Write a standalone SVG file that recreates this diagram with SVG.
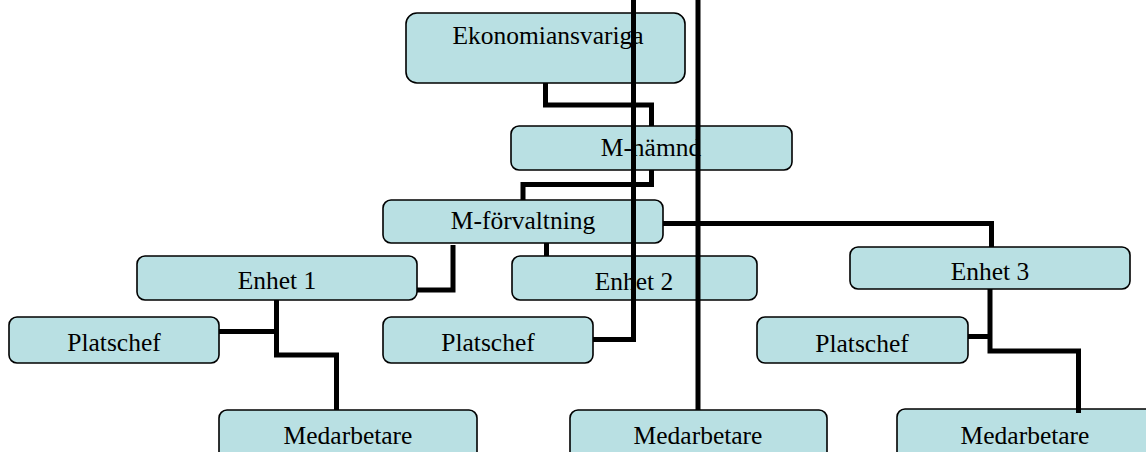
<svg xmlns="http://www.w3.org/2000/svg" width="1146" height="452" viewBox="0 0 1146 452">
<style>
.box{fill:#B9E0E3;stroke:#000;stroke-width:1.6}
.t{font-family:"Liberation Serif","Times New Roman",serif;font-size:25.5px;fill:#000;text-anchor:middle}
.c{fill:none;stroke:#000;stroke-width:5;stroke-linejoin:miter;stroke-linecap:butt}
</style>
<rect x="0" y="0" width="1146" height="452" fill="#fff"/>
<g id="ekonomiansvariga"><rect class="box" x="406" y="13" width="279" height="70" rx="11"/><text class="t" x="548" y="44">Ekonomiansvariga</text></g>
<g id="m-namnd"><rect class="box" x="511" y="126" width="281" height="44" rx="8"/><text class="t" x="651" y="156">M-nämnd</text></g>
<g id="m-forvaltning"><rect class="box" x="383" y="200" width="280" height="43" rx="8"/><text class="t" x="523" y="229">M-förvaltning</text></g>
<g id="enhet1"><rect class="box" x="137" y="256" width="280" height="44" rx="8"/><text class="t" x="277" y="289">Enhet 1</text></g>
<g id="enhet2"><rect class="box" x="512" y="256" width="245" height="44" rx="8"/><text class="t" x="634" y="290">Enhet 2</text></g>
<g id="enhet3"><rect class="box" x="850" y="247" width="280" height="42" rx="8"/><text class="t" x="990" y="280">Enhet 3</text></g>
<g id="platschef1"><rect class="box" x="9" y="317" width="210" height="46" rx="8"/><text class="t" x="114" y="351">Platschef</text></g>
<g id="platschef2"><rect class="box" x="383" y="317" width="210" height="46" rx="8"/><text class="t" x="488" y="351">Platschef</text></g>
<g id="platschef3"><rect class="box" x="757" y="317" width="211" height="46" rx="8"/><text class="t" x="862" y="352">Platschef</text></g>
<g id="medarbetare1"><rect class="box" x="219" y="410" width="258" height="60" rx="8"/><text class="t" x="348" y="444">Medarbetare</text></g>
<g id="medarbetare2"><rect class="box" x="570" y="410" width="257" height="60" rx="8"/><text class="t" x="698" y="444">Medarbetare</text></g>
<g id="medarbetare3"><rect class="box" x="897" y="409" width="257" height="60" rx="8"/><text class="t" x="1025" y="444">Medarbetare</text></g>
<g id="connectors">
<path class="c" d="M545.5,83 V105 H651.5 V126"/>
<path class="c" d="M651.5,170 V184.5 H523 V200"/>
<path class="c" d="M663,223.5 H991.5 V247"/>
<path class="c" d="M453,245 V290 H417"/>
<path class="c" d="M546.5,243 V256"/>
<path class="c" d="M276.5,300 V355 H336.5 V410"/>
<path class="c" d="M219,331.5 H276.5"/>
<path class="c" d="M593,339.5 H633.5 V0"/>
<path class="c" d="M698,0 V410"/>
<path class="c" d="M990,289 V351 H1078.5 V413"/>
<path class="c" d="M968,336.5 H990"/>
</g>
</svg>
